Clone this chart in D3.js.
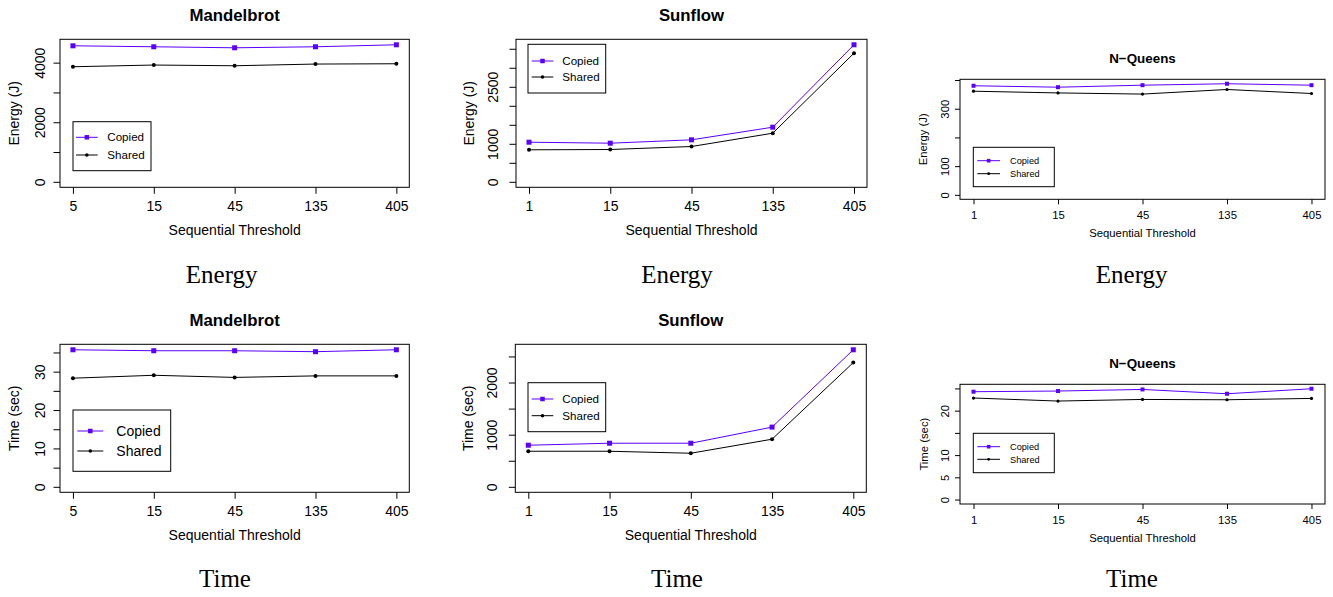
<!DOCTYPE html>
<html><head><meta charset="utf-8">
<script src="https://cdn.jsdelivr.net/npm/d3@7"></script>
<style>
body{margin:0;background:#fff}
svg{display:block}
</style>
</head><body>
<svg id="chart" width="1333" height="597"></svg>
<script>
// Sequential threshold categories
const mandelThresholds = ["5", "15", "45", "135", "405"];
const thresholds = ["1", "15", "45", "135", "405"];
const seriesNames = ["Copied", "Shared"];

// Energy (J)
const mandelEnergyCopied = [4566, 4533, 4499, 4533, 4600];
const mandelEnergyShared = [3863, 3920, 3896, 3953, 3963];
const sunflowEnergyCopied = [1042, 1016, 1105, 1437, 3605];
const sunflowEnergyShared = [842, 850, 929, 1279, 3384];
const nqueensEnergyCopied = [380, 375, 382, 387, 382];
const nqueensEnergyShared = [361, 355, 351, 367, 353];

// Time (sec)
const mandelTimeCopied = [35.7, 35.45, 35.45, 35.2, 35.7];
const mandelTimeShared = [28.3, 29.06, 28.5, 28.9, 28.9];
const sunflowTimeCopied = [798, 836, 836, 1145, 2628];
const sunflowTimeShared = [682, 682, 644, 913, 2383];
const nqueensTimeCopied = [24.26, 24.41, 24.77, 23.8, 24.93];
const nqueensTimeShared = [22.84, 22.16, 22.52, 22.45, 22.75];

// y-axis ticks and which of them carry a label
const mandelEnergyTicks = [0, 1000, 2000, 3000, 4000];
const mandelEnergyLabels = [0, 2000, 4000];
const sunflowEnergyTicks = [0, 500, 1000, 1500, 2000, 2500, 3000, 3500];
const sunflowEnergyLabels = [0, 1000, 2500];
const nqueensEnergyTicks = [0, 100, 200, 300, 400];
const nqueensEnergyLabels = [0, 100, 300];
const mandelTimeTicks = [0, 5, 10, 15, 20, 25, 30, 35];
const mandelTimeLabels = [0, 10, 20, 30];
const sunflowTimeTicks = [0, 500, 1000, 1500, 2000, 2500];
const sunflowTimeLabels = [0, 1000, 2000];
const nqueensTimeTicks = [0, 5, 10, 15, 20, 25];
const nqueensTimeLabels = [0, 5, 10, 20];

const COPIED = "#5a00ff";
const SHARED = "#000000";
const SANS = "'Liberation Sans', Arial, Helvetica, sans-serif";
const SERIF = "'Liberation Serif', 'Times New Roman', serif";

const big = {title: 16.8, axis: 14, titleGap: 18.6, tickBase: 23.4, xTitleBase: 47.7, tick: 6.5, sq: 5, dot: 2};
const small = {title: 13.4, axis: 11.3, titleGap: 16, tickBase: 19.5, xTitleBase: 38, tick: 5, sq: 4, dot: 1.6};

const panels = [
  {title: "Mandelbrot", cats: mandelThresholds, copied: mandelEnergyCopied, shared: mandelEnergyShared,
   yTitle: "Energy (J)", ticks: mandelEnergyTicks, labels: mandelEnergyLabels,
   box: {l: 60, r: 409.3, t: 39.3, b: 187.3}, st: big, yLabGap: 15, yTitleGap: 41,
   leg: {x: 73, y: 121.7, w: 78, h: 49, x0: 76, x1: 97.7, tx: 107.3, r1: 137.3, r2: 155, fs: 11.6, sq: 4.5, dot: 1.8}},
  {title: "Sunflow", cats: thresholds, copied: sunflowEnergyCopied, shared: sunflowEnergyShared,
   yTitle: "Energy (J)", ticks: sunflowEnergyTicks, labels: sunflowEnergyLabels,
   box: {l: 516, r: 867, t: 39.3, b: 187.3}, st: big, yLabGap: 18.5, yTitleGap: 42.5,
   leg: {x: 528, y: 44.3, w: 77.7, h: 48.7, x0: 531.7, x1: 553.3, tx: 562.3, r1: 61, r2: 77, fs: 11.6, sq: 4.5, dot: 1.8}},
  {title: "N\u2212Queens", cats: thresholds, copied: nqueensEnergyCopied, shared: nqueensEnergyShared,
   yTitle: "Energy (J)", ticks: nqueensEnergyTicks, labels: nqueensEnergyLabels,
   box: {l: 960, r: 1325, t: 79.3, b: 199.3}, st: small, yLabGap: 11, yTitleGap: 32.7,
   leg: {x: 973.3, y: 147.3, w: 81, h: 39.4, x0: 977.3, x1: 1000, tx: 1010, r1: 160.7, r2: 173.7, fs: 9.2, sq: 3.6, dot: 1.4}},
  {title: "Mandelbrot", cats: mandelThresholds, copied: mandelTimeCopied, shared: mandelTimeShared,
   yTitle: "Time (sec)", ticks: mandelTimeTicks, labels: mandelTimeLabels,
   box: {l: 60, r: 409.3, t: 344.3, b: 492.3}, st: big, yLabGap: 15, yTitleGap: 41,
   leg: {x: 73, y: 410, w: 97.7, h: 61.3, x0: 77.3, x1: 103.3, tx: 116.3, r1: 431, r2: 451, fs: 14, sq: 4.5, dot: 1.8}},
  {title: "Sunflow", cats: thresholds, copied: sunflowTimeCopied, shared: sunflowTimeShared,
   yTitle: "Time (sec)", ticks: sunflowTimeTicks, labels: sunflowTimeLabels,
   box: {l: 515.3, r: 866.3, t: 344.3, b: 492.3}, st: big, yLabGap: 18.5, yTitleGap: 42,
   leg: {x: 528, y: 382.7, w: 77.7, h: 49, x0: 531.7, x1: 553.3, tx: 562.3, r1: 399, r2: 415.7, fs: 11.6, sq: 4.5, dot: 1.8}},
  {title: "N\u2212Queens", cats: thresholds, copied: nqueensTimeCopied, shared: nqueensTimeShared,
   yTitle: "Time (sec)", ticks: nqueensTimeTicks, labels: nqueensTimeLabels,
   box: {l: 960, r: 1325, t: 384.3, b: 504}, st: small, yLabGap: 11, yTitleGap: 31.7,
   leg: {x: 973.3, y: 433.3, w: 81, h: 39.4, x0: 977.3, x1: 1000, tx: 1010, r1: 446.7, r2: 459.3, fs: 9.2, sq: 3.6, dot: 1.4}}
];

const captions = [
  {text: "Energy", x: 221.7, y: 283.3}, {text: "Energy", x: 677, y: 283.3}, {text: "Energy", x: 1131.7, y: 283.3},
  {text: "Time", x: 225, y: 586.7}, {text: "Time", x: 677, y: 586.7}, {text: "Time", x: 1132, y: 586.7}
];

const svg = d3.select("#chart");

function drawMarker(g, kind, x, y, sq, dot, color) {
  if (kind === "square") {
    g.append("rect").attr("x", x - sq / 2).attr("y", y - sq / 2)
      .attr("width", sq).attr("height", sq).attr("fill", color);
  } else {
    g.append("circle").attr("cx", x).attr("cy", y).attr("r", dot).attr("fill", color);
  }
}

panels.forEach(p => {
  const {box, st} = p;
  const g = svg.append("g").attr("font-family", SANS);

  const x = d3.scalePoint().domain(p.cats).range([box.l, box.r]).padding(0.16);
  const ymax = d3.max(p.copied.concat(p.shared));
  const y = d3.scaleLinear().domain([-0.04 * ymax, 1.04 * ymax]).range([box.b, box.t]);

  // x axis
  const xa = g.append("g").attr("transform", `translate(0,${box.b})`)
    .call(d3.axisBottom(x).tickSize(st.tick).tickSizeOuter(0));
  xa.select(".domain").remove();
  xa.selectAll("line").attr("stroke", "#000");
  xa.selectAll("text").attr("y", st.tickBase).attr("dy", 0)
    .attr("font-size", st.axis).attr("font-family", SANS).attr("fill", "#000");

  // y axis with rotated labels
  const ya = g.append("g").attr("transform", `translate(${box.l},0)`)
    .call(d3.axisLeft(y).tickValues(p.ticks).tickSize(st.tick).tickSizeOuter(0)
      .tickFormat(d => p.labels.includes(d) ? String(d) : ""));
  ya.select(".domain").remove();
  ya.selectAll("line").attr("stroke", "#000");
  ya.selectAll("text").attr("x", 0).attr("y", -p.yLabGap).attr("dy", 0)
    .attr("transform", "rotate(-90)").attr("text-anchor", "middle")
    .attr("font-size", st.axis).attr("font-family", SANS).attr("fill", "#000");

  // plot frame
  g.append("rect").attr("x", box.l).attr("y", box.t)
    .attr("width", box.r - box.l).attr("height", box.b - box.t)
    .attr("fill", "none").attr("stroke", "#000").attr("stroke-width", 1);

  // series
  const series = [
    {vals: p.copied, color: COPIED, kind: "square"},
    {vals: p.shared, color: SHARED, kind: "dot"}
  ];
  series.forEach(s => {
    const pts = s.vals.map((v, i) => [x(p.cats[i]), y(v)]);
    g.append("path").attr("d", d3.line()(pts)).attr("fill", "none")
      .attr("stroke", s.color).attr("stroke-width", 1);
    pts.forEach(pt => drawMarker(g, s.kind, pt[0], pt[1], st.sq, st.dot, s.color));
  });

  // titles
  const cx = (box.l + box.r) / 2;
  g.append("text").attr("x", cx).attr("y", box.t - st.titleGap).attr("text-anchor", "middle")
    .attr("font-weight", "bold").attr("font-size", st.title).text(p.title);
  g.append("text").attr("x", cx).attr("y", box.b + st.xTitleBase).attr("text-anchor", "middle")
    .attr("font-size", st.axis).text("Sequential Threshold");
  const cy = (box.t + box.b) / 2;
  g.append("text").attr("transform", `translate(${box.l - p.yTitleGap},${cy}) rotate(-90)`)
    .attr("text-anchor", "middle").attr("font-size", st.axis).text(p.yTitle);

  // legend
  const L = p.leg;
  const lg = g.append("g");
  lg.append("rect").attr("x", L.x).attr("y", L.y).attr("width", L.w).attr("height", L.h)
    .attr("fill", "#fff").attr("stroke", "#000").attr("stroke-width", 1);
  [L.r1, L.r2].forEach((ry, i) => {
    const s = series[i];
    lg.append("line").attr("x1", L.x0).attr("x2", L.x1).attr("y1", ry).attr("y2", ry)
      .attr("stroke", s.color).attr("stroke-width", 1);
    drawMarker(lg, s.kind, (L.x0 + L.x1) / 2, ry, L.sq, L.dot, s.color);
    lg.append("text").attr("x", L.tx).attr("y", ry).attr("dy", "0.35em")
      .attr("font-size", L.fs).text(seriesNames[i]);
  });
});

// sub-figure captions
svg.selectAll("text.caption").data(captions).enter().append("text")
  .attr("class", "caption")
  .attr("x", d => d.x).attr("y", d => d.y).attr("text-anchor", "middle")
  .attr("font-family", SERIF).attr("font-size", 25).text(d => d.text);
</script>
</body></html>
